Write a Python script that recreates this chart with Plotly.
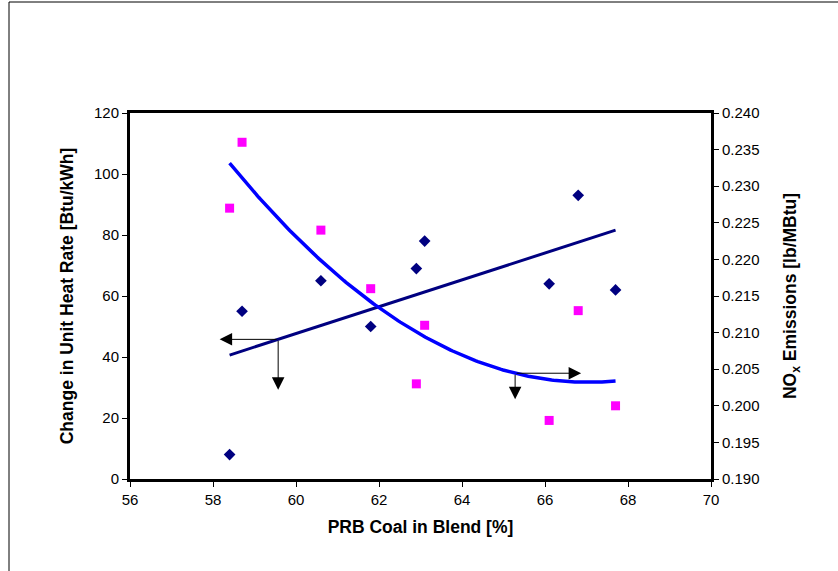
import numpy as np
import plotly.graph_objects as go

# Data
prb_pct = [58.4, 58.7, 60.6, 61.8, 62.9, 63.1, 66.1, 66.8, 67.7]
heat_rate = [8, 55, 65, 50, 69, 78, 64, 93, 62]
nox = [0.227, 0.236, 0.224, 0.216, 0.203, 0.211, 0.198, 0.213, 0.200]

# Trendlines (linear for heat rate, 2nd-order poly for NOx)
lin = np.poly1d(np.polyfit(prb_pct, heat_rate, 1))
quad = np.poly1d(np.polyfit(prb_pct, nox, 2))
xs = np.linspace(min(prb_pct), max(prb_pct), 200)

FONT = "Liberation Sans, Arial, sans-serif"

fig = go.Figure()
fig.add_trace(go.Scatter(x=xs, y=lin(xs), mode="lines",
                         line=dict(color="#000080", width=3), showlegend=False, hoverinfo="skip"))
fig.add_trace(go.Scatter(x=xs, y=quad(xs), mode="lines", yaxis="y2",
                         line=dict(color="#0000FF", width=3.5), showlegend=False, hoverinfo="skip"))
fig.add_trace(go.Scatter(x=prb_pct, y=heat_rate, mode="markers",
                         marker=dict(symbol="diamond", size=9, color="#000080"),
                         showlegend=False))
fig.add_trace(go.Scatter(x=prb_pct, y=nox, mode="markers", yaxis="y2",
                         marker=dict(symbol="square", size=9, color="#FF00FF"),
                         showlegend=False))

# Arrows indicating which axis each curve belongs to
xa, xb = 59.57, 65.28
ya, yb = float(lin(xa)), float(quad(xb))
arrow = dict(text="", showarrow=True, arrowhead=2, arrowsize=2.5, arrowwidth=1,
             arrowcolor="black", standoff=0, startstandoff=0)
annotations = [
    dict(x=58.16, y=ya, ax=xa, ay=ya, xref="x", yref="y", axref="x", ayref="y", **arrow),
    dict(x=xa, y=29.3, ax=xa, ay=ya, xref="x", yref="y", axref="x", ayref="y", **arrow),
    dict(x=66.87, y=yb, ax=xb, ay=yb, xref="x", yref="y2", axref="x", ayref="y2", **arrow),
    dict(x=xb, y=0.2009, ax=xb, ay=yb, xref="x", yref="y2", axref="x", ayref="y2", **arrow),
]

W, H = 838, 571
ml, mr, mt, mb = 130, 127, 113, 92
pw, ph = W - ml - mr, H - mt - mb

fig.update_layout(
    width=W, height=H,
    margin=dict(l=ml, r=mr, t=mt, b=mb),
    paper_bgcolor="white", plot_bgcolor="white",
    font=dict(family=FONT, size=15, color="black"),
    annotations=annotations,
    xaxis=dict(range=[56, 70], dtick=2, showgrid=False, zeroline=False,
               showline=True, linewidth=3, linecolor="black", mirror=True,
               ticks="outside", ticklen=5, tickwidth=1, tickcolor="black",
               title=dict(text="<b>PRB Coal in Blend [%]</b>", font=dict(size=17.5), standoff=14)),
    yaxis=dict(range=[0, 120], dtick=20, showgrid=False, zeroline=False,
               showline=True, linewidth=3, linecolor="black",
               ticks="outside", ticklen=5, tickwidth=1, tickcolor="black",
               title=dict(text="<b>Change in Unit Heat Rate [Btu/kWh]</b>", font=dict(size=17.5), standoff=16)),
    yaxis2=dict(range=[0.19, 0.24], dtick=0.005, tickformat=".3f", overlaying="y", side="right",
                showgrid=False, zeroline=False,
                showline=True, linewidth=3, linecolor="black",
                ticks="outside", ticklen=5, tickwidth=1, tickcolor="black",
                title=dict(text="<b>NO<sub>x</sub> Emissions [lb/MBtu]</b>", font=dict(size=17.5), standoff=26)),
    shapes=[dict(type="rect", xref="paper", yref="paper",
                 x0=(9 - ml) / pw, x1=(W + 10 - ml) / pw,
                 y0=-(mb + 10) / ph, y1=1 + (mt - 2) / ph,
                 line=dict(color="black", width=1), fillcolor="rgba(0,0,0,0)", layer="below")],
)

fig.write_html("out.html")
